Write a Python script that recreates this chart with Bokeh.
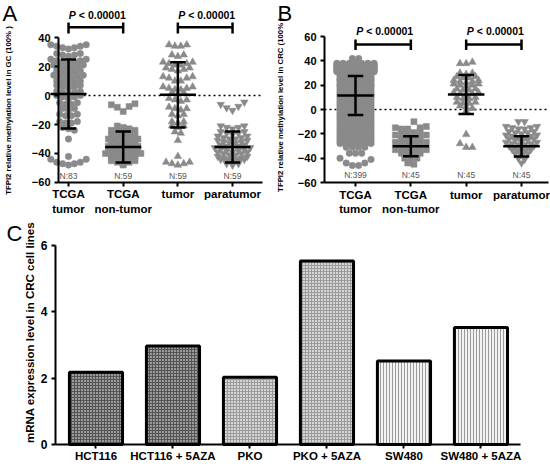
import numpy as np
from bokeh.plotting import figure
from bokeh.models import FixedTicker, Label, ColumnDataSource, Range1d
from bokeh.layouts import column, row
from bokeh.embed import file_html
from bokeh.resources import INLINE
from bokeh.core.properties import value

# ---------------- data ----------------
group_ticks = [1, 2, 3, 4]
group_labels = ["TCGA\ntumor", "TCGA\nnon-tumor", "tumor", "paratumor"]

gc_n = [83, 59, 59, 59]
gc_mean = [1.0, -35.5, 0.5, -35.5]
gc_sd = [23.8, 10.7, 22.5, 10.7]

crc_n = [399, 45, 45, 45]
crc_mean = [11.5, -30.2, 12.3, -30.3]
crc_sd = [16.0, 8.3, 16.0, 8.3]

# panel A (GC): each inner list is one row of the dot plot, left to right
gc_tcga_tumor = [
    [35, 34, 33, 32, 33, 34, 35],
    [29, 28, 27, 28, 29],
    [25, 24, 23, 22, 23, 24, 25],
    [21, 20, 19, 19, 20, 21],
    [17, 16, 15, 16, 17],
    [14, 13, 12, 12, 13, 14],
    [10, 9, 8, 9, 10],
    [7, 6, 5, 6, 7],
    [3, 2, 1, 2, 3],
    [0, -1, -2, -1, 0],
    [-5, -6, -6, -5],
    [-9, -10, -9],
    [-13, -14, -14, -13],
    [-18, -19, -19, -18],
    [-22, -23, -24],
    [-30],
    [-42],
    [-44, -46, -47, -48, -47, -46, -44],
]
gc_tcga_normal = [
    [-6.4, -8.1, -11, -7.6, -5.7],
    [-21, -22, -23],
    [-24, -25, -26, -25, -24],
    [-27, -28, -29, -28, -27],
    [-30, -31, -32, -32, -31, -30],
    [-33, -34, -35, -34, -33],
    [-35, -36, -37, -37, -36, -35],
    [-38, -39, -40, -40, -39, -38],
    [-40, -41, -42, -43, -42, -41, -40],
    [-43, -44, -45, -44, -43],
    [-45, -46, -47, -46, -45],
    [-48],
]
gc_tumor = [
    [35, 34, 34, 35],
    [28, 27, 28],
    [23, 22, 21, 21, 22, 23],
    [19, 18, 17, 18, 19],
    [13, 12, 10, 10, 12, 13],
    [6, 5, 4, 4, 5, 6],
    [2, 1, 2],
    [-2, -3, -4, -3],
    [-8, -9, -10, -9],
    [-13, -14, -13],
    [-18, -19, -18],
    [-21, -22, -21],
    [-25, -26],
    [-31],
    [-42],
    [-46, -47, -48, -47, -46],
]
gc_paratumor = [
    [-6.2, -8.5, -10.3, -7.6, -4.6],
    [-21, -22, -23, -22, -21],
    [-25, -26, -27, -26, -25],
    [-28, -29, -30, -30, -29, -28],
    [-31, -32, -33, -33, -32, -31],
    [-34, -35, -36, -35, -34],
    [-36, -37, -38, -39, -38, -37, -36],
    [-39, -40, -41, -41, -40, -39],
    [-42, -43, -44, -44, -43, -42],
    [-44, -45, -46, -45, -44],
    [-47, -48, -47],
]

# panel B (CRC)
crc_tcga_top = [[42, 42]]
crc_tcga_levels = [38, 37, 36, 35, 34, 33, 32, 31, 30, 29, 28, 27, 26, 25, 24, 23, 22,
                   21, 20, 19, 18, 17, 16, 15, 14, 13, 12, 11, 10, 9, 8, 7, 6, 5, 4, 3,
                   2, 1, 0, -1, -2, -3, -4, -5, -6, -7, -8, -9, -10, -11, -12, -13, -14,
                   -15, -16, -17, -18, -19, -20, -21, -22, -23, -24, -25, -26, -27, -28]
crc_tcga_counts = [7, 7, 7, 7, 7, 7, 7, 7, 6, 6, 5, 6, 5, 6, 6, 5, 6, 5, 6, 6, 5,
                   6, 5, 6, 5, 6, 6, 5, 6, 5, 6, 5, 6, 5, 6, 5, 6, 5, 6, 5, 6, 5,
                   6, 5, 6, 5, 6, 5, 6, 5, 6, 5, 6, 5, 6, 5, 6, 5, 6, 5, 6, 5, 6,
                   5, 6, 5, 6]
crc_tcga_bottom = [
    [-31, -31, -31, -31],
    [-36, -36, -36],
    [-40, -44, -46, -46, -44, -41],
]
crc_tcga_normal = [
    [-15, -16, -16, -10, -15, -14],
    [-18, -19, -19, -18],
    [-21, -22, -23, -23, -22, -21],
    [-24, -25, -25, -24],
    [-27, -28, -29, -29, -28, -27],
    [-30, -31, -31, -30],
    [-33, -34, -35, -35, -34, -33],
    [-36, -37, -37, -36],
    [-40, -42, -40],
    [-44, -45],
]
crc_tumor = [
    [37.8, 37.8, 38.9],
    [30, 29, 30],
    [27, 26, 26, 27],
    [24, 23, 22, 23, 24],
    [21, 20, 19, 20, 21],
    [17, 16, 16, 17],
    [14, 13, 12, 13, 14],
    [10, 9, 9, 10],
    [6, 5, 5, 6],
    [3, 2, 1],
    [-1],
    [-20.5],
    [-28, -31, -31],
]
crc_paratumor = [
    [-10, -10],
    [-14, -15, -16, -16, -15, -14],
    [-18, -19, -20, -19, -18],
    [-21, -22, -23, -23, -22, -21],
    [-24, -25, -26, -25, -24],
    [-27, -28, -29, -29, -28, -27],
    [-30, -31, -32, -31, -30],
    [-33, -34, -34, -33],
    [-36, -37, -36],
    [-40, -41],
    [-44],
]

# panel C
cell_lines = ["HCT116", "HCT116 + 5AZA", "PKO", "PKO + 5AZA", "SW480", "SW480 + 5AZA"]
mrna_expr = [2.18, 2.97, 2.03, 5.53, 2.52, 3.53]

# ---------------- styles ----------------
FONT = "Liberation Sans"
DOT = "#8a8a8a"
bar_fill = ["#9a9a9a", "#9a9a9a", "#d6d6d6", "#d6d6d6", "#f2f2f2", "#f2f2f2"]
bar_hatch = ["cross", "cross", "cross", "cross", "vertical_line", "vertical_line"]
bar_hatch_color = ["#555555", "#555555", "#9a9a9a", "#9a9a9a", "#9c9c9c", "#9c9c9c"]


def swarm(rows, xc, dx):
    xs, ys = [], []
    for r in rows:
        n = len(r)
        for i, v in enumerate(r):
            xs.append(xc + (i - (n - 1) / 2.0) * dx)
            ys.append(v)
    return xs, ys


def base_figure(width, height, xr, yr):
    p = figure(width=width, height=height, x_range=Range1d(*xr), y_range=Range1d(*yr),
               output_backend="svg", toolbar_location=None, title=None,
               min_border=0, min_border_left=0, min_border_right=0,
               min_border_top=0, min_border_bottom=0)
    p.outline_line_color = None
    p.grid.visible = False
    return p


def style_axes(p, ysize, xsize, xfix, yfix, xbounds, ybounds):
    for ax in (p.xaxis[0], p.yaxis[0]):
        ax.axis_line_width = 2
        ax.axis_line_color = "black"
        ax.major_tick_line_width = 2
        ax.major_tick_line_color = "black"
        ax.major_tick_out = 4
        ax.major_tick_in = 0
        ax.minor_tick_line_color = None
        ax.major_label_text_font = FONT
        ax.major_label_text_font_style = "bold"
        ax.major_label_text_color = "black"
    p.xaxis[0].major_label_standoff = 2
    p.yaxis[0].major_label_standoff = 4
    p.yaxis[0].major_label_text_font_size = ysize
    p.xaxis[0].major_label_text_font_size = xsize
    p.yaxis[0].fixed_location = xfix
    p.xaxis[0].fixed_location = yfix
    p.xaxis[0].bounds = xbounds
    p.yaxis[0].bounds = ybounds


def dot_panel(width, xr, yr, xbounds, groups, markers, sizes, dx,
              means, sds, ns, yticks, ybounds, bracket_y, bracket_tick, ptext_y, n_y,
              ylabel, ylabel_xy, letter, letter_xy):
    p = base_figure(width, 215, xr, yr)
    style_axes(p, "11px", "11.5px", xbounds[0], ybounds[0], xbounds, ybounds)
    p.yaxis[0].ticker = FixedTicker(ticks=yticks)
    p.xaxis[0].ticker = FixedTicker(ticks=group_ticks)
    p.xaxis[0].major_label_overrides = {t: l for t, l in zip(group_ticks, group_labels)}

    # dotted zero reference line
    p.segment(x0=[xbounds[0]], x1=[xbounds[1]], y0=[0], y1=[0], line_color="black",
              line_dash="2 3", line_width=1.5)

    for xc, rows, mk, sz in zip(group_ticks, groups, markers, sizes):
        xs, ys = swarm(rows, xc, dx)
        p.scatter(xs, ys, marker=mk, size=sz, fill_color=DOT, line_color=DOT, line_width=0.5)

    # mean +/- SD
    xs = np.array(group_ticks, dtype=float)
    m = np.array(means)
    s = np.array(sds)
    p.segment(x0=xs - 0.33, x1=xs + 0.33, y0=m, y1=m, line_color="black", line_width=2.5)
    p.segment(x0=xs, x1=xs, y0=m - s, y1=m + s, line_color="black", line_width=2.5)
    p.segment(x0=xs - 0.14, x1=xs + 0.14, y0=m + s, y1=m + s, line_color="black", line_width=2.5)
    p.segment(x0=xs - 0.14, x1=xs + 0.14, y0=m - s, y1=m - s, line_color="black", line_width=2.5)

    p.text(x=group_ticks, y=[n_y] * 4, text=["N:%d" % n for n in ns],
           text_font=value(FONT), text_font_size="8.5px", text_color="#555555",
           text_align="center", text_baseline="middle")

    # significance brackets
    for a, b in [(1, 2), (3, 4)]:
        p.segment(x0=[a, a, b], x1=[b, a, b], y0=[bracket_y, bracket_tick[0], bracket_tick[0]],
                  y1=[bracket_y, bracket_tick[1], bracket_tick[1]],
                  line_color="black", line_width=2.5)
        xm = (a + b) / 2.0
        p.text(x=[xm], y=[ptext_y], text=["P"], text_font=value(FONT), text_font_size="10.5px",
               text_font_style="bold italic", text_align="right", text_baseline="middle",
               x_offset=-20)
        p.text(x=[xm], y=[ptext_y], text=["< 0.00001"], text_font=value(FONT),
               text_font_size="10.5px", text_font_style="bold", text_align="left",
               text_baseline="middle", x_offset=-17)

    p.add_layout(Label(x=ylabel_xy[0], y=ylabel_xy[1], text=ylabel, angle=np.pi / 2,
                       text_font=FONT, text_font_style="bold", text_font_size="7.8px",
                       text_align="center", text_baseline="middle", text_color="black"))
    p.add_layout(Label(x=letter_xy[0], y=letter_xy[1], text=letter, text_font=FONT,
                       text_font_size="22px", text_align="left", text_baseline="top",
                       text_color="black"))
    return p


pA = dot_panel(
    272, (-0.244, 4.731), (-82.76, 65.52), (0.817, 4.549),
    [gc_tcga_tumor, gc_tcga_normal, gc_tumor, gc_paratumor],
    ["circle", "square", "triangle", "inverted_triangle"], [6.5, 6, 7.5, 7.5], 0.108,
    gc_mean, gc_sd, gc_n, [-60, -40, -20, 0, 20, 40], (-60, 40),
    47, (42.8, 50.3), 55.2, -55.2,
    "TFPI2 relative methylation level in GC (100% )", (-0.098, -10.34),
    "A", (-0.207, 65.52))

crc_tcga_rows = crc_tcga_top + [[lv] * c for lv, c in zip(crc_tcga_levels, crc_tcga_counts)] + crc_tcga_bottom

pB = dot_panel(
    278, (-0.5, 4.524), (-87.12, 89.59), (0.44, 4.488),
    [crc_tcga_rows, crc_tcga_normal, crc_tumor, crc_paratumor],
    ["circle", "square", "triangle", "inverted_triangle"], [6.5, 6, 7.5, 7.5], 0.112,
    crc_mean, crc_sd, crc_n, [-60, -40, -20, 0, 20, 40, 60], (-60, 60),
    53.4, (49.0, 57.5), 64.4, -54.2,
    "TFPI2 relative methylation level in CRC (100% )", (-0.355, 3.7),
    "B", (-0.41, 89.59))

# ---------------- panel C ----------------
bar_x = list(range(1, len(cell_lines) + 1))
src = ColumnDataSource(dict(x=bar_x, top=mrna_expr, fill=bar_fill, hatch=bar_hatch,
                            hcolor=bar_hatch_color))
pC = base_figure(550, 253, (-0.240, 6.903), (-0.7236, 6.904))
style_axes(pC, "12px", "11.5px", 0.474, 0, (0.474, 6.513), (0, 6))
pC.yaxis[0].ticker = FixedTicker(ticks=[0, 2, 4, 6])
pC.xaxis[0].ticker = FixedTicker(ticks=bar_x)
pC.xaxis[0].major_label_overrides = {t: l for t, l in zip(bar_x, cell_lines)}
pC.vbar(x="x", top="top", width=0.69, bottom=0, source=src, fill_color="fill",
        hatch_pattern="hatch", hatch_color="hcolor", hatch_scale=3, hatch_weight=1,
        line_color="black", line_width=3)
pC.add_layout(Label(x=0.137, y=3.377, text="mRNA expression level in CRC cell lines",
                    angle=np.pi / 2, text_font=FONT, text_font_style="bold",
                    text_font_size="11.5px", text_align="center", text_baseline="middle",
                    text_color="black"))
pC.add_layout(Label(x=-0.162, y=6.753, text="C", text_font=FONT, text_font_size="22px",
                    text_align="left", text_baseline="top", text_color="black"))

layout = column(row(pA, pB, spacing=0), pC, spacing=0)
open("out.html", "w").write(file_html(layout, INLINE))
